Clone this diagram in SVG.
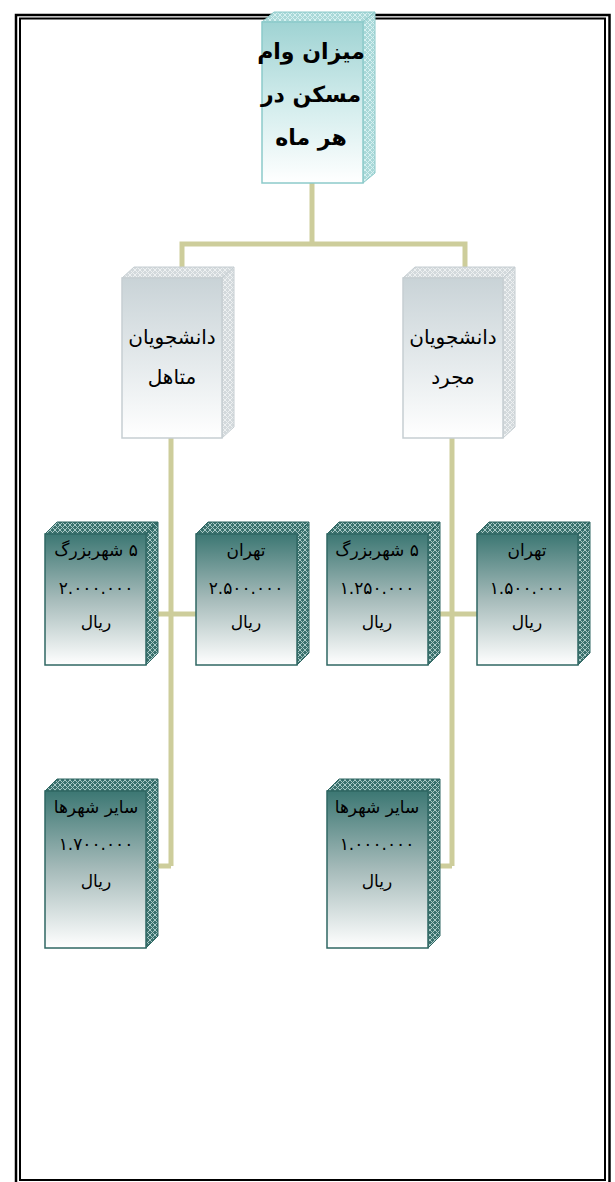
<svg xmlns="http://www.w3.org/2000/svg" width="615" height="1182" viewBox="0 0 615 1182">
<style>
text{direction:rtl;unicode-bidi:embed;text-anchor:middle;fill:#000;font-family:"DejaVu Sans",sans-serif}
.t1{font-size:22px;font-weight:bold}
.t2{font-size:20px}
.t3{font-size:17px}
.conn{fill:none;stroke:#cdcd9b;stroke-width:5}
.f0{fill:url(#g0);stroke:#8ccaca;stroke-width:1.5}
.s0{fill:url(#p0);stroke:#8ccaca;stroke-width:1}
.f1{fill:url(#g1);stroke:#c6ced2;stroke-width:1.5}
.s1{fill:url(#p1);stroke:#c6ced2;stroke-width:1}
.f2{fill:url(#g2);stroke:#2f6763;stroke-width:1.5}
.s2{fill:url(#p2);stroke:#2f6763;stroke-width:1}
</style>
<defs>
<linearGradient id="g0" x1="0" y1="0" x2="0" y2="1"><stop offset="0" stop-color="#9fd3d3"/><stop offset="0.55" stop-color="#d6eeee"/><stop offset="1" stop-color="#ffffff"/></linearGradient>
<linearGradient id="g1" x1="0" y1="0" x2="0" y2="1"><stop offset="0" stop-color="#c9d3d7"/><stop offset="0.55" stop-color="#e6ebed"/><stop offset="1" stop-color="#ffffff"/></linearGradient>
<linearGradient id="g2" x1="0" y1="0" x2="0" y2="1"><stop offset="0" stop-color="#3c7773"/><stop offset="0.5" stop-color="#a6bbba"/><stop offset="1" stop-color="#ffffff"/></linearGradient>
<pattern id="p0" width="5" height="5" patternUnits="userSpaceOnUse"><rect width="5" height="5" fill="#a9d8d8"/><path d="M0 0L5 5M5 0L0 5" stroke="#d6f0f0" stroke-width="1"/></pattern>
<pattern id="p1" width="5" height="5" patternUnits="userSpaceOnUse"><rect width="5" height="5" fill="#d3d9dc"/><path d="M0 0L5 5M5 0L0 5" stroke="#edf0f1" stroke-width="1"/></pattern>
<pattern id="p2" width="5" height="5" patternUnits="userSpaceOnUse"><rect width="5" height="5" fill="#3a716d"/><path d="M0 0L5 5M5 0L0 5" stroke="#a9c9c6" stroke-width="1"/></pattern>
</defs>
<rect width="615" height="1182" fill="#fff"/>
<g id="frame" fill="none" stroke="#000">
<path d="M16 1185V15H609.5V1185" stroke-width="2.5"/>
<rect x="20" y="18.5" width="585" height="1161.5" stroke-width="2"/>
</g>
<g id="connectors" class="conn">
<path d="M312 183V244M182 268V244H465V268"/>
<path d="M171 438V866M158 614H196M158 866H171"/>
<path d="M452 438V866M440 614H477M440 866H452"/>
</g>
<g id="n-root">
<polygon class="s0" points="262,22 274,12 375,12 363,22"/>
<polygon class="s0" points="363,22 375,12 375,173 363,183"/>
<rect class="f0" x="262" y="22" width="101" height="161"/>
<text class="t1" x="311" y="59">میزان وام</text>
<text class="t1" x="311" y="102">مسکن در</text>
<text class="t1" x="311" y="145">هر ماه</text>
</g>
<g id="n-married">
<polygon class="s1" points="122,278 134,267 234,267 222,278"/>
<polygon class="s1" points="222,278 234,267 234,427 222,438"/>
<rect class="f1" x="122" y="278" width="100" height="160"/>
<text class="t2" x="172" y="344">دانشجویان</text>
<text class="t2" x="172" y="384">متاهل</text>
</g>
<g id="n-single">
<polygon class="s1" points="403,278 415,267 515,267 503,278"/>
<polygon class="s1" points="503,278 515,267 515,427 503,438"/>
<rect class="f1" x="403" y="278" width="100" height="160"/>
<text class="t2" x="453" y="344">دانشجویان</text>
<text class="t2" x="453" y="384">مجرد</text>
</g>
<g id="n-a">
<polygon class="s2" points="45,534 57,522 158,522 146,534"/>
<polygon class="s2" points="146,534 158,522 158,653 146,665"/>
<rect class="f2" x="45" y="534" width="101" height="131"/>
<text class="t3" x="96" y="556">۵ شهربزرگ</text>
<text class="t3" x="96" y="594">۲.۰۰۰.۰۰۰</text>
<text class="t3" x="96" y="628">ریال</text>
</g>
<g id="n-b">
<polygon class="s2" points="196,534 208,522 309,522 297,534"/>
<polygon class="s2" points="297,534 309,522 309,653 297,665"/>
<rect class="f2" x="196" y="534" width="101" height="131"/>
<text class="t3" x="246" y="556">تهران</text>
<text class="t3" x="246" y="594">۲.۵۰۰.۰۰۰</text>
<text class="t3" x="246" y="628">ریال</text>
</g>
<g id="n-c">
<polygon class="s2" points="327,534 339,522 440,522 428,534"/>
<polygon class="s2" points="428,534 440,522 440,653 428,665"/>
<rect class="f2" x="327" y="534" width="101" height="131"/>
<text class="t3" x="377" y="556">۵ شهربزرگ</text>
<text class="t3" x="377" y="594">۱.۲۵۰.۰۰۰</text>
<text class="t3" x="377" y="628">ریال</text>
</g>
<g id="n-d">
<polygon class="s2" points="477,534 489,522 590,522 578,534"/>
<polygon class="s2" points="578,534 590,522 590,653 578,665"/>
<rect class="f2" x="477" y="534" width="101" height="131"/>
<text class="t3" x="527" y="556">تهران</text>
<text class="t3" x="527" y="594">۱.۵۰۰.۰۰۰</text>
<text class="t3" x="527" y="628">ریال</text>
</g>
<g id="n-e">
<polygon class="s2" points="45,791 57,779 158,779 146,791"/>
<polygon class="s2" points="146,791 158,779 158,936 146,948"/>
<rect class="f2" x="45" y="791" width="101" height="157"/>
<text class="t3" x="96" y="813">سایر شهرها</text>
<text class="t3" x="96" y="850">۱.۷۰۰.۰۰۰</text>
<text class="t3" x="96" y="887">ریال</text>
</g>
<g id="n-f">
<polygon class="s2" points="327,791 339,779 440,779 428,791"/>
<polygon class="s2" points="428,791 440,779 440,936 428,948"/>
<rect class="f2" x="327" y="791" width="101" height="157"/>
<text class="t3" x="377" y="813">سایر شهرها</text>
<text class="t3" x="377" y="850">۱.۰۰۰.۰۰۰</text>
<text class="t3" x="377" y="887">ریال</text>
</g>
</svg>
